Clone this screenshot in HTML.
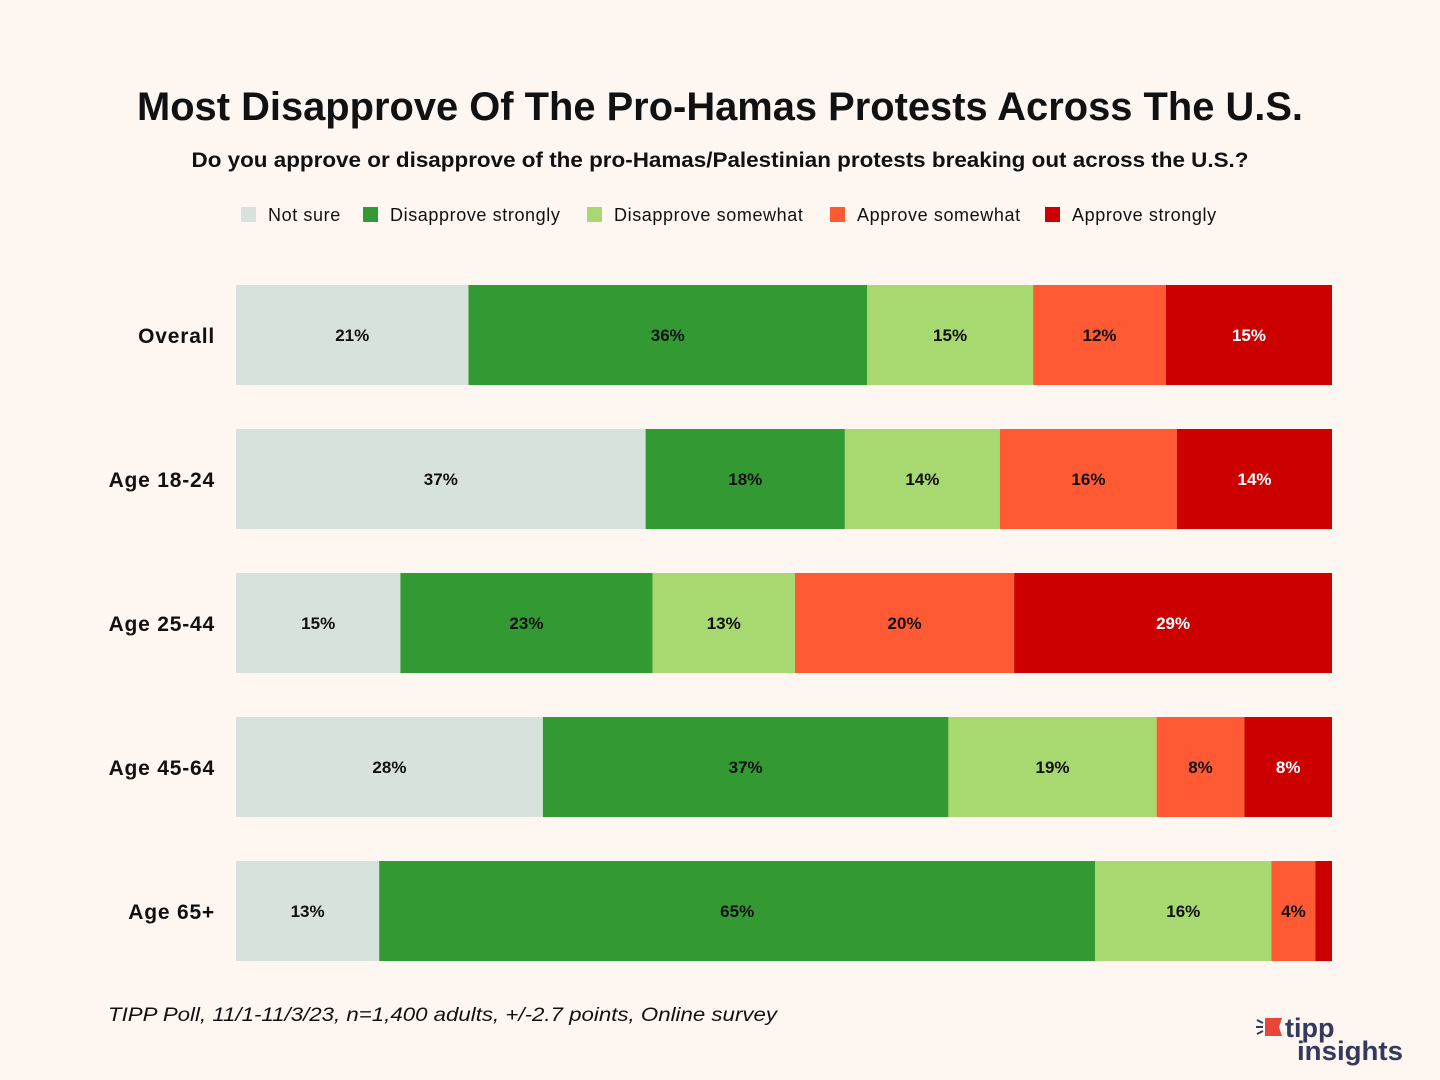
<!DOCTYPE html>
<html><head><meta charset="utf-8"><style>
html,body{margin:0;padding:0;background:#fdf6f1;}
svg{display:block;font-family:"Liberation Sans",sans-serif;}
</style></head><body>
<svg id="chart" width="1440" height="1080" viewBox="0 0 1440 1080">
<rect width="1440" height="1080" fill="#fdf6f1"/>
<text x="720" y="120" text-anchor="middle" font-size="40" font-weight="bold" fill="#111" textLength="1166" lengthAdjust="spacingAndGlyphs">Most Disapprove Of The Pro-Hamas Protests Across The U.S.</text>
<text x="720" y="167" text-anchor="middle" font-size="21" font-weight="bold" fill="#111" textLength="1057" lengthAdjust="spacingAndGlyphs">Do you approve or disapprove of the pro-Hamas/Palestinian protests breaking out across the U.S.?</text>
<g id="legend"></g>
<g id="bars"></g>
<text x="108" y="1021" font-size="19" font-style="italic" fill="#111" textLength="669" lengthAdjust="spacingAndGlyphs">TIPP Poll, 11/1-11/3/23, n=1,400 adults, +/-2.7 points, Online survey</text>
<g>
<polygon points="1265,1018 1282,1018 1279,1027 1282,1036 1265,1036" fill="#e8463b"/>
<path d="M1257,1020 l6,3 M1256,1027 h7 M1257,1034 l6,-3" stroke="#333a5c" stroke-width="2"/>
<text x="1285" y="1037" font-size="27" font-weight="bold" fill="#333a5c">tipp</text>
<text x="1297" y="1060" font-size="27" font-weight="bold" fill="#333a5c" textLength="106" lengthAdjust="spacingAndGlyphs">insights</text>
</g>
</svg>
<script>
const categories = ["Overall","Age 18-24","Age 25-44","Age 45-64","Age 65+"];
const seriesNames = ["Not sure","Disapprove strongly","Disapprove somewhat","Approve somewhat","Approve strongly"];
const notSure = [21,37,15,28,13];
const disStrong = [36,18,23,37,65];
const disSome = [15,14,13,19,16];
const appSome = [12,16,20,8,4];
const appStrong = [15,14,29,8,1.5];
const colors = ["#d8e2dc","#339933","#a8d870","#ff5a33","#cc0000"];
const series = [notSure,disStrong,disSome,appSome,appStrong];
const NS="http://www.w3.org/2000/svg";
const x0=236, x1=1332, rowTop=285, rowStep=144, barH=100;
function xScale(v,total){return v/total*(x1-x0);}
function yScale(i){return rowTop+i*rowStep;}
const bars=document.getElementById('bars');
const slugs=["not-sure","disapprove-strongly","disapprove-somewhat","approve-somewhat","approve-strongly"];
categories.forEach((c,i)=>{
  const y=yScale(i);
  const lab=document.createElementNS(NS,'text');
  
  
  lab.setAttribute('x',215);lab.setAttribute('y',y+barH/2+8);
  lab.setAttribute('text-anchor','end');lab.setAttribute('font-size','21');lab.setAttribute('font-weight','bold');lab.setAttribute('fill','#111');
  lab.setAttribute('letter-spacing','0.8');
  lab.textContent=c;bars.appendChild(lab);
  let total=0;series.forEach(s=>total+=s[i]);
  let acc=0;
  series.forEach((s,k)=>{
    const v=s[i];const xs=x0+xScale(acc,total);const w=xScale(v,total);
    const r=document.createElementNS(NS,'rect');
    
    
    r.setAttribute('x',xs);r.setAttribute('y',y);r.setAttribute('width',w);r.setAttribute('height',barH);r.setAttribute('fill',colors[k]);
    bars.appendChild(r);
    if(v>=3){
      const t=document.createElementNS(NS,'text');
      
      
      t.setAttribute('x',xs+w/2);t.setAttribute('y',y+barH/2+6);t.setAttribute('text-anchor','middle');
      t.setAttribute('font-size','17');t.setAttribute('font-weight','bold');t.setAttribute('fill',k===4?'#fff':'#111');
      t.textContent=Math.round(v)+'%';bars.appendChild(t);
    }
    acc+=v;
  });
});
const legend=document.getElementById('legend');
const lx=[241,363,587,830,1045];
seriesNames.forEach((n,k)=>{
  const r=document.createElementNS(NS,'rect');
  
  
  r.setAttribute('x',lx[k]);r.setAttribute('y',207);r.setAttribute('width',15);r.setAttribute('height',15);r.setAttribute('fill',colors[k]);
  legend.appendChild(r);
  const t=document.createElementNS(NS,'text');
  
  
  t.setAttribute('x',lx[k]+27);t.setAttribute('y',221);t.setAttribute('font-size','18');t.setAttribute('fill','#111');
  t.setAttribute('letter-spacing','0.6');
  t.textContent=n;legend.appendChild(t);
});
</script>
</body></html>
